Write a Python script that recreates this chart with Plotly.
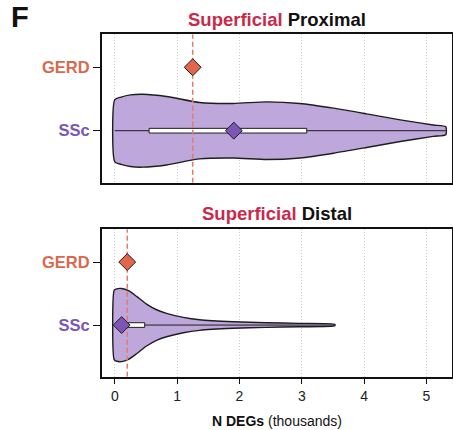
import plotly.graph_objects as go

# ---- data (N DEGs, thousands) ----
categories = ["SSc", "GERD"]          # y positions 0 and 1
panel_titles = ["Proximal", "Distal"]

# GERD single value per panel
gerd_value = [1.25, 0.20]

# SSc violin outline: x positions and half-widths (category units)
prox_x = [0.00, 0.10, 0.25, 0.45, 0.83, 1.36, 1.90, 2.44, 2.97, 3.51, 4.04, 4.58, 5.11, 5.31]
prox_hw = [0.49, 0.53, 0.565, 0.575, 0.54, 0.445, 0.43, 0.455, 0.43, 0.355, 0.265, 0.17, 0.09, 0.063]
dist_x = [-0.01, 0.03, 0.11, 0.22, 0.35, 0.51, 0.67, 0.83, 1.10, 1.36, 1.90, 2.43, 2.96, 3.53]
dist_hw = [0.55, 0.575, 0.58, 0.545, 0.455, 0.333, 0.243, 0.186, 0.122, 0.084, 0.052, 0.037, 0.027, 0.012]

# SSc box (quartiles) and centre diamond
ssc_q1 = [0.55, 0.05]
ssc_q3 = [3.08, 0.48]
ssc_mid = [1.91, 0.11]

x_ticks = [0, 1, 2, 3, 4, 5]

# ---- styling ----
FONT = "Liberation Sans, Arial, Helvetica, sans-serif"
VIOLIN_FILL = "#bea7da"
EDGE = "#1e1e1e"
GERD_COL = "#e2664b"
SSC_COL = "#7d55b6"
GERD_TXT = "#d7694f"
SSC_TXT = "#7a56b4"
TITLE_RED = "#c92a4b"
DASH_COL = "#e8786a"
Y_RANGE = [-0.82, 1.52]
X_RANGE = [-0.21, 5.41]
BOX_HALF = 0.037

W, H = 453, 430
x_dom = [101.7 / W, 452 / W]
y_doms = [[1 - 182.7 / H, 1 - 34.3 / H], [1 - 376.7 / H, 1 - 229.3 / H]]

fig = go.Figure()

violins = [(prox_x, prox_hw), (dist_x, dist_hw)]
for i in range(2):
    xa = "x" if i == 0 else "x2"
    ya = "y" if i == 0 else "y2"
    vx, vhw = violins[i]
    c = categories.index("SSc")
    # violin polygon
    px = list(vx) + list(reversed(vx)) + [vx[0]]
    py = [c + h for h in vhw] + [c - h for h in reversed(vhw)] + [c + vhw[0]]
    fig.add_trace(go.Scatter(x=px, y=py, mode="lines", fill="toself",
                             fillcolor=VIOLIN_FILL,
                             line=dict(color=EDGE, width=1.4, shape="spline", smoothing=0.6),
                             xaxis=xa, yaxis=ya, hoverinfo="skip"))
    # whisker line through the violin
    fig.add_trace(go.Scatter(x=[vx[0], vx[-1]], y=[c, c], mode="lines",
                             line=dict(color=EDGE, width=1),
                             xaxis=xa, yaxis=ya, hoverinfo="skip"))
    # interquartile box
    q1, q3 = ssc_q1[i], ssc_q3[i]
    fig.add_trace(go.Scatter(x=[q1, q3, q3, q1, q1],
                             y=[c - BOX_HALF, c - BOX_HALF, c + BOX_HALF, c + BOX_HALF, c - BOX_HALF],
                             mode="lines", fill="toself", fillcolor="white",
                             line=dict(color=EDGE, width=1),
                             xaxis=xa, yaxis=ya, hoverinfo="skip"))
    # GERD reference line
    g = gerd_value[i]
    fig.add_trace(go.Scatter(x=[g, g], y=Y_RANGE, mode="lines",
                             line=dict(color=DASH_COL, width=1.5, dash="5px,3px"),
                             xaxis=xa, yaxis=ya, hoverinfo="skip"))
    # diamonds
    fig.add_trace(go.Scatter(x=[ssc_mid[i]], y=[c], mode="markers",
                             marker=dict(symbol="diamond", size=13, color=SSC_COL,
                                         line=dict(color=EDGE, width=1)),
                             xaxis=xa, yaxis=ya))
    fig.add_trace(go.Scatter(x=[g], y=[categories.index("GERD")], mode="markers",
                             marker=dict(symbol="diamond", size=13, color=GERD_COL,
                                         line=dict(color=EDGE, width=1)),
                             xaxis=xa, yaxis=ya))

ytext = [f'<span style="color:{SSC_TXT}">SSc</span>',
         f'<span style="color:{GERD_TXT}">GERD</span>']

common_x = dict(range=X_RANGE, tickvals=x_ticks, showgrid=True, griddash="1px,2px",
                gridcolor="#cfcfcf", gridwidth=1, zeroline=False, showline=True,
                linecolor="#111111", linewidth=1.5, mirror=True, domain=x_dom,
                tickfont=dict(family=FONT, size=14, color="#222222"))
common_y = dict(range=Y_RANGE, tickvals=[0, 1], ticktext=ytext, showgrid=False,
                zeroline=False, showline=True, linecolor="#111111", linewidth=1.5,
                mirror=True, ticks="outside", ticklen=7, tickcolor="#111111",
                tickfont=dict(family=FONT, size=16.5, weight="bold"))

fig.update_layout(
    width=W, height=H, margin=dict(l=0, r=0, t=0, b=0),
    paper_bgcolor="white", plot_bgcolor="white", showlegend=False,
    xaxis=dict(common_x, anchor="y", showticklabels=False, ticks=""),
    yaxis=dict(common_y, anchor="x", domain=y_doms[0]),
    xaxis2=dict(common_x, anchor="y2", ticks="outside", ticklen=6, tickcolor="#111111"),
    yaxis2=dict(common_y, anchor="x2", domain=y_doms[1]),
)

xc = (x_dom[0] + x_dom[1]) / 2
title_y = [1 - 19 / H, 1 - 214 / H]
for i in range(2):
    fig.add_annotation(x=xc, y=title_y[i], xref="paper", yref="paper",
                       xanchor="center", yanchor="middle", showarrow=False,
                       text=f'<b><span style="color:{TITLE_RED}">Superficial</span> {panel_titles[i]}</b>',
                       font=dict(family=FONT, size=18.5, color="#111111"))

fig.add_annotation(x=xc, y=1 - 420.7 / H, xref="paper", yref="paper",
                   xanchor="center", yanchor="middle", showarrow=False,
                   text="<b>N DEGs</b> (thousands)",
                   font=dict(family=FONT, size=14, color="#111111"))

fig.add_annotation(x=20 / W, y=1 - 17.5 / H, xref="paper", yref="paper",
                   xanchor="center", yanchor="middle", showarrow=False,
                   text="<b>F</b>", font=dict(family=FONT, size=29, color="#111111"))

fig.write_html("out.html")
